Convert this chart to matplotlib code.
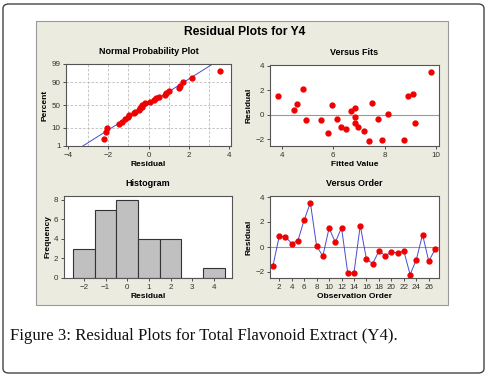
from statistics import NormalDist

import matplotlib
matplotlib.use("Agg")
import matplotlib.pyplot as plt
import numpy as np
from matplotlib.patches import FancyBboxPatch, Rectangle

# residuals in observation order, with the matching fitted values
residuals = [-1.49, 0.85, 0.82, 0.28, 0.52, 2.15, 3.54, 0.07, -0.72, 1.51,
             0.38, 1.55, -2.10, -2.05, 1.72, -0.98, -1.32, -0.33, -0.68, -0.42,
             -0.45, -0.33, -2.20, -1.02, 1.00, -1.15, -0.18]
fitted = [5.80, 4.60, 5.95, 6.70, 6.85, 4.80, 9.80, 8.15, 6.85, 3.85,
          4.45, 8.90, 7.90, 8.75, 9.10, 6.95, 7.20, 6.15, 9.20, 4.95,
          5.50, 7.75, 7.40, 6.30, 7.50, 6.50, 6.85]
prob_ticks = [1, 10, 50, 90, 99]
hist_edges = [-2.5, -1.5, -0.5, 0.5, 1.5, 2.5, 3.5, 4.5]

W, H = 491, 376
fig = plt.figure(figsize=(W / 100, H / 100), dpi=100)
fig.patch.set_facecolor("white")

SANS = "Liberation Sans"
RED = "#ee0000"
BLUE = "#4a4ad0"
PANEL = "#ecebdf"


def px_axes(x0, y0, x1, y1):
    # axes from pixel box (top-left origin)
    return fig.add_axes([x0 / W, 1 - y1 / H, (x1 - x0) / W, (y1 - y0) / H])


def style(ax, title, xlabel, ylabel):
    for s in ax.spines.values():
        s.set_color("#555555")
        s.set_linewidth(0.8)
    ax.tick_params(labelsize=5.8, length=2, width=0.6, pad=2, colors="#333333")
    for lab in ax.get_xticklabels() + ax.get_yticklabels():
        lab.set_fontfamily(SANS)
    ax.set_title(title, fontsize=6.5, fontweight="bold", family=SANS, pad=7)
    ax.set_xlabel(xlabel, fontsize=6, fontweight="bold", family=SANS, labelpad=1.5)
    ax.set_ylabel(ylabel, fontsize=6, fontweight="bold", family=SANS, labelpad=2)


# outer rounded frame
fig.patches.append(FancyBboxPatch((3 / W, 3 / H), 481 / W, 369 / H,
                                  boxstyle="round,pad=0,rounding_size=0.012",
                                  transform=fig.transFigure, facecolor="white",
                                  edgecolor="#444444", linewidth=1.0, zorder=-3))
# minitab panel
fig.patches.append(Rectangle((36 / W, 1 - 305 / H), 412 / W, 284 / H,
                             transform=fig.transFigure, facecolor=PANEL,
                             edgecolor="#999999", linewidth=0.8, zorder=-2))

fig.text(245 / W, 1 - 32 / H, "Residual Plots for Y4", ha="center", va="center",
         fontsize=8.7, fontweight="bold", family=SANS)

res = np.array(residuals)
n = len(res)
nd = NormalDist()

# normal probability plot
ax1 = px_axes(66, 64, 231, 146)
srt = np.sort(res)
pp = (np.arange(1, n + 1) - 0.3) / (n + 0.4)
z = [nd.inv_cdf(p) for p in pp]
mu, sd = res.mean(), res.std(ddof=1)
xl = np.array([-4.2, 4.2])
ax1.plot(xl, (xl - mu) / sd, color=BLUE, lw=0.7)
ax1.plot(srt, z, "o", color=RED, ms=3.5, mec=RED)
ax1.set_xlim(-4.1, 4.1)
ax1.set_ylim(nd.inv_cdf(0.01), nd.inv_cdf(0.99))
ax1.set_xticks([-4, -2, 0, 2, 4])
ax1.set_yticks([nd.inv_cdf(p / 100) for p in prob_ticks])
ax1.set_yticklabels([str(p) for p in prob_ticks])
for xv in range(-3, 4):
    ax1.axvline(xv, color="#bbbbbb", lw=0.6, ls=(0, (3, 2)), zorder=0)
for p in [10, 50, 90]:
    ax1.axhline(nd.inv_cdf(p / 100), color="#bbbbbb", lw=0.6, ls=(0, (3, 2)), zorder=0)
style(ax1, "Normal Probability Plot", "Residual", "Percent")

# versus fits
ax2 = px_axes(270, 65, 439, 146)
ax2.axhline(0, color="#999999", lw=0.8, zorder=0)
ax2.plot(fitted, residuals, "o", color=RED, ms=3.5, mec=RED)
ax2.set_xlim(3.53, 10.12)
ax2.set_ylim(-2.57, 4.08)
ax2.set_xticks([4, 6, 8, 10])
ax2.set_yticks([-2, 0, 2, 4])
style(ax2, "Versus Fits", "Fitted Value", "Residual")

# histogram
ax3 = px_axes(64, 196, 232, 278)
ax3.hist(res, bins=hist_edges, color="#c0c0c0", edgecolor="#333333", linewidth=0.8)
ax3.set_xlim(-2.92, 4.83)
ax3.set_ylim(0, 8.4)
ax3.set_xticks(range(-2, 5))
ax3.set_yticks([0, 2, 4, 6, 8])
style(ax3, "Histogram", "Residual", "Frequency")

# versus order
ax4 = px_axes(270, 196, 439, 278)
order = np.arange(1, n + 1)
ax4.axhline(0, color="#999999", lw=0.8, zorder=0)
ax4.plot(order, residuals, "-", color=BLUE, lw=0.7)
ax4.plot(order, residuals, "o", color=RED, ms=3.5, mec=RED)
ax4.set_xlim(0.52, 27.64)
ax4.set_ylim(-2.48, 4.08)
ax4.set_xticks(range(2, 27, 2))
ax4.set_yticks([-2, 0, 2, 4])
style(ax4, "Versus Order", "Observation Order", "Residual")

fig.text(10 / W, 1 - 336 / H, "Figure 3: Residual Plots for Total Flavonoid Extract (Y4).",
         ha="left", va="center", fontsize=12.1, family="Liberation Serif", color="#111111")

fig.savefig("out.png", dpi=100, facecolor="white")
